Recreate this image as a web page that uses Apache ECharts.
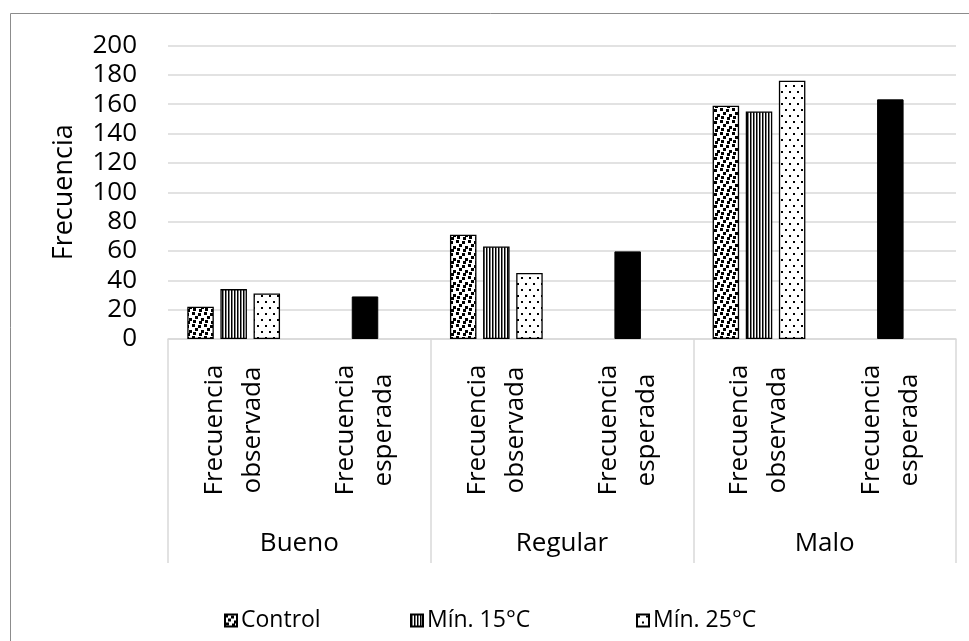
<!DOCTYPE html>
<html>
<head>
<meta charset="utf-8">
<script src="https://cdn.jsdelivr.net/npm/echarts@6/dist/echarts.min.js"></script>
<style>
  html, body { margin: 0; padding: 0; background: #fff; }
  #chart { width: 969px; height: 641px; }
</style>
</head>
<body>
<div id="chart"></div>
<script>
// Grupos de calidad y subcategorías del eje X
const groups = ['Bueno', 'Regular', 'Malo'];
const subCategories = ['Frecuencia\nobservada', 'Frecuencia\nesperada'];

// Frecuencias observadas por tratamiento (Bueno, Regular, Malo)
const controlObs = [22, 71, 159];
const min15Obs = [34, 63, 155];
const min25Obs = [31, 45, 176];

// Frecuencia esperada (Bueno, Regular, Malo)
const expected = [29, 59.7, 163.3];

// Escala del eje Y
const yMin = 0;
const yMax = 200;
const yStep = 20;

const legendNames = ['Control', 'Mín. 15°C', 'Mín. 25°C'];

// Una categoría por combinación grupo × subcategoría
const categories = [];
groups.forEach(() => subCategories.forEach(s => categories.push(s)));

// Valores observados en la primera subcategoría de cada grupo, vacíos en la segunda
function observedSlots(values) {
  const out = [];
  values.forEach(v => { out.push(v); out.push('-'); });
  return out;
}
function expectedSlots(values) {
  const out = [];
  values.forEach(v => { out.push('-'); out.push(v); });
  return out;
}

// Tramas de relleno en blanco y negro
function makePattern(w, h, draw) {
  const c = document.createElement('canvas');
  c.width = w; c.height = h;
  const ctx = c.getContext('2d');
  ctx.fillStyle = '#ffffff';
  ctx.fillRect(0, 0, w, h);
  ctx.fillStyle = '#000000';
  draw(ctx, w, h);
  return { image: c, repeat: 'repeat' };
}

const confetti = makePattern(12, 12, ctx => {
  [[0, 0], [6, 1], [3, 4], [9, 6], [1, 8], [7, 9]].forEach(([x, y]) => ctx.fillRect(x, y, 3, 3));
});
const verticalLines = makePattern(3, 6, (ctx, w, h) => {
  ctx.fillRect(0, 0, 1.5, h);
});
const sparseDots = makePattern(8, 12, ctx => {
  ctx.fillRect(1, 1, 2, 2);
  ctx.fillRect(5, 7, 2, 2);
});

const FONT = "'Open Sans', 'Noto Sans', sans-serif";
const GRID_COLOR = '#d9d9d9';

const barBorder = { borderColor: '#000', borderWidth: 1.3 };

const legendLeft = [224, 410, 636];

const option = {
  animation: false,
  backgroundColor: '#ffffff',
  textStyle: { fontFamily: FONT, color: '#000' },
  grid: { left: 168, right: 13, top: 45.5, bottom: 302, containLabel: false },
  graphic: [{
    type: 'rect',
    silent: true,
    z: -10,
    shape: { x: 10.5, y: 13.5, width: 1000, height: 1000 },
    style: { fill: 'none', stroke: '#8c8c8c', lineWidth: 1 }
  }],
  legend: legendNames.map((name, i) => ({
    data: [name],
    left: legendLeft[i],
    top: 609,
    padding: 0,
    icon: 'rect',
    itemWidth: 12,
    itemHeight: 12,
    itemGap: 0,
    selectedMode: false,
    textStyle: { fontFamily: FONT, fontSize: 23, color: '#000', padding: [0, 0, 0, -1] }
  })),
  xAxis: [
    {
      type: 'category',
      data: categories,
      axisLine: { show: true, lineStyle: { color: GRID_COLOR, width: 1.5 } },
      axisTick: { show: false },
      axisLabel: {
        interval: 0,
        rotate: 90,
        align: 'center',
        verticalAlign: 'middle',
        margin: 91,
        fontFamily: FONT,
        fontSize: 26,
        lineHeight: 38,
        color: '#000'
      }
    },
    {
      type: 'category',
      data: groups,
      position: 'bottom',
      axisLine: { show: false },
      axisTick: { show: true, interval: 0, length: 224, lineStyle: { color: GRID_COLOR, width: 1.5 } },
      axisLabel: {
        interval: 0,
        margin: 205,
        verticalAlign: 'middle',
        fontFamily: FONT,
        fontSize: 26,
        color: '#000'
      },
      splitLine: { show: false }
    }
  ],
  yAxis: {
    type: 'value',
    min: yMin,
    max: yMax,
    interval: yStep,
    name: 'Frecuencia',
    nameLocation: 'middle',
    nameRotate: 90,
    nameGap: 90,
    nameTextStyle: { fontFamily: FONT, fontSize: 27, color: '#000' },
    axisLine: { show: false },
    axisTick: { show: false },
    axisLabel: { fontFamily: FONT, fontSize: 26, color: '#000', margin: 31 },
    splitLine: { lineStyle: { color: GRID_COLOR, width: 1.5 } }
  },
  series: [
    {
      name: 'Control',
      type: 'bar',
      xAxisIndex: 0,
      barWidth: 26.5,
      barGap: '25%',
      data: observedSlots(controlObs),
      itemStyle: Object.assign({ color: confetti }, barBorder)
    },
    {
      name: 'Mín. 15°C',
      type: 'bar',
      xAxisIndex: 0,
      stack: 'centro',
      barWidth: 26.5,
      data: observedSlots(min15Obs),
      itemStyle: Object.assign({ color: verticalLines }, barBorder)
    },
    {
      name: 'Mín. 25°C',
      type: 'bar',
      xAxisIndex: 0,
      barWidth: 26.5,
      data: observedSlots(min25Obs),
      itemStyle: Object.assign({ color: sparseDots }, barBorder)
    },
    {
      name: 'Frecuencia esperada',
      type: 'bar',
      xAxisIndex: 0,
      stack: 'centro',
      barWidth: 26.5,
      data: expectedSlots(expected),
      itemStyle: { color: '#000', borderColor: '#000', borderWidth: 1 }
    }
  ]
};

const chart = echarts.init(document.getElementById('chart'), null, { renderer: 'canvas' });
chart.setOption(option);
</script>
</body>
</html>
